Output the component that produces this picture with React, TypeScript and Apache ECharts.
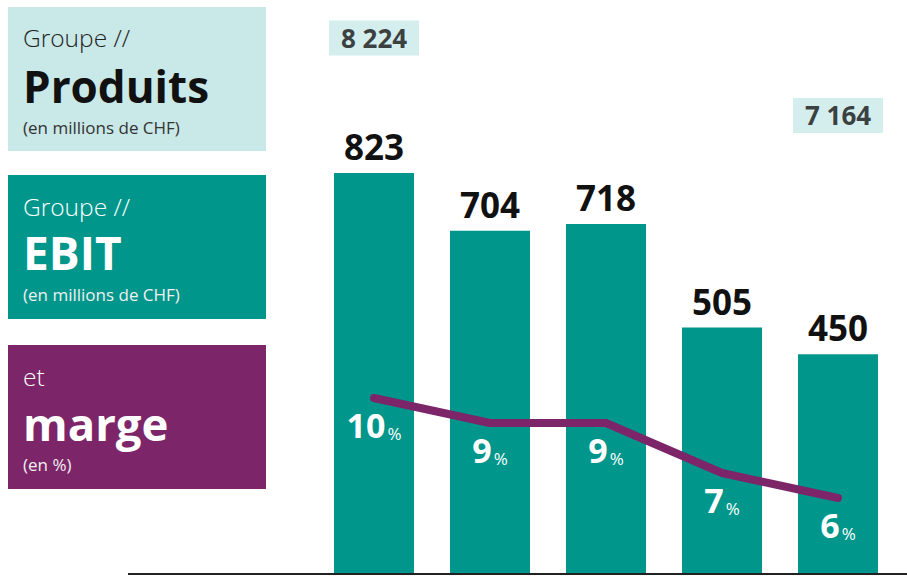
import React, { useEffect, useRef } from "react";
import * as echarts from "echarts";

const categories = ["A1", "A2", "A3", "A4", "A5"];
const ebitValues = [823, 704, 718, 505, 450];
const marginValues = [10, 9, 9, 7, 6];
const produitsValues: (number | string)[] = [8224, "-", "-", "-", 7164];

const FONT = "'Open Sans', 'Noto Sans', sans-serif";
const TEAL = "#00968B";
const LIGHT = "#C9E8E8";
const PURPLE = "#7C2568";

function fmtThousands(v: number) {
  return String(v).replace(/\B(?=(\d{3})+(?!\d))/g, " ");
}

export default function App() {
  const ref = useRef<HTMLDivElement>(null);
  useEffect(() => {
    if (!ref.current) return;
    const chart = echarts.init(ref.current, undefined, { renderer: "svg" });
    const txt = (text: string, y: number, size: number, weight: any, color: string) => ({
      type: "text",
      left: 23,
      top: y,
      style: {
        text,
        x: 0,
        y: 0,
        fill: color,
        fontFamily: FONT,
        fontSize: size,
        fontWeight: weight,
        lineHeight: Math.round(size * 1.0),
      },
    });
    const option: any = {
      animation: false,
      textStyle: { fontFamily: FONT },
      grid: { left: 316, width: 580, top: 14, height: 559, containLabel: false },
      xAxis: {
        type: "category",
        data: categories,
        axisLine: { show: false },
        axisTick: { show: false },
        axisLabel: { show: false },
      },
      yAxis: [
        { type: "value", min: 0, max: 1150, show: false },
        { type: "value", min: 3, max: 25.36, show: false },
        { type: "value", min: 906, max: 8552, show: false },
      ],
      series: [
        {
          type: "bar",
          data: ebitValues,
          barWidth: 80,
          itemStyle: { color: TEAL },
          label: {
            show: true,
            position: "top",
            distance: 9,
            color: "#111",
            fontFamily: FONT,
            fontSize: 35,
            fontWeight: "bold",
          },
          z: 2,
        },
        {
          type: "line",
          yAxisIndex: 1,
          data: marginValues,
          symbol: "circle",
          symbolSize: 1,
          showSymbol: true,
          itemStyle: { color: PURPLE },
          lineStyle: { color: PURPLE, width: 8, cap: "round", join: "round" },
          label: {
            show: true,
            position: "bottom",
            distance: 9,
            formatter: (p: any) => `{n|${p.value}}{p|%}`,
            rich: {
              n: { fontFamily: FONT, fontSize: 34, fontWeight: "bold", color: "#fff" },
              p: { fontFamily: FONT, fontSize: 17, color: "#fff", verticalAlign: "bottom", padding: [0, 0, 0, 2] },
            },
          },
          z: 3,
        },
        {
          type: "scatter",
          yAxisIndex: 2,
          data: produitsValues,
          symbol: "rect",
          symbolSize: [90, 35],
          itemStyle: { color: LIGHT },
          label: {
            show: true,
            position: "inside",
            formatter: (p: any) => fmtThousands(p.value),
            color: "#111",
            fontFamily: FONT,
            fontSize: 26,
            fontWeight: "bold",
          },
          z: 2,
        },
      ],
      graphic: [
        { type: "line", shape: { x1: 128, y1: 574, x2: 907, y2: 574 }, style: { stroke: "#222", lineWidth: 2 }, z: 10 },
        { type: "rect", left: 8, top: 7, shape: { width: 258, height: 144 }, style: { fill: LIGHT } },
        { type: "rect", left: 8, top: 175, shape: { width: 258, height: 144 }, style: { fill: TEAL } },
        { type: "rect", left: 8, top: 345, shape: { width: 258, height: 144 }, style: { fill: PURPLE } },
        txt("Groupe //", 25, 24.5, 300, "#222"),
        txt("Produits", 64, 44, "bold", "#111"),
        txt("(en millions de CHF)", 119, 17, "normal", "#333"),
        txt("Groupe //", 194, 24.5, 300, "#fff"),
        txt("EBIT", 229, 46, "bold", "#fff"),
        txt("(en millions de CHF)", 286, 17, "normal", "#f0f0f0"),
        txt("et", 364, 24.5, 300, "#fff"),
        txt("marge", 400, 45.5, "bold", "#fff"),
        txt("(en %)", 456, 17, "normal", "#f0f0f0"),
      ],
    };
    chart.setOption(option);
    return () => chart.dispose();
  }, []);
  return (
    <div
      ref={ref}
      style={{ position: "fixed", left: 0, top: 0, width: 907, height: 578, background: "#fff" }}
    />
  );
}
